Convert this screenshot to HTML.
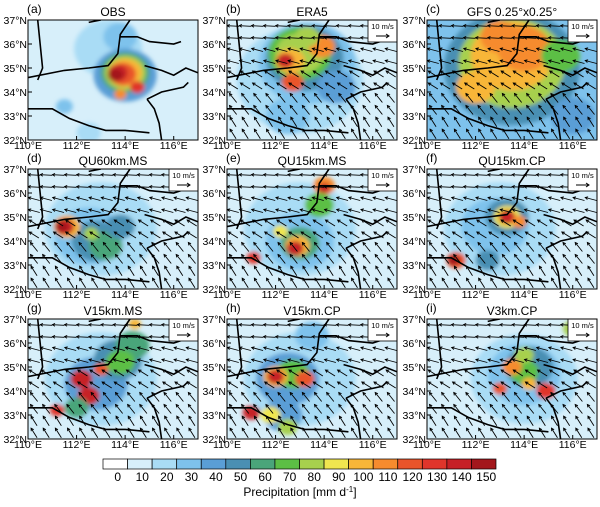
<!DOCTYPE html>
<html><head><meta charset="utf-8">
<style>
body{margin:0;background:#fff;width:600px;height:502px;overflow:hidden;font-family:"Liberation Sans",sans-serif;}
svg text{font-family:"Liberation Sans",sans-serif;}
</style></head>
<body>
<svg id="fig" width="600" height="502" viewBox="0 0 600 502">
<defs><filter id="bl" x="-20%" y="-20%" width="140%" height="140%"><feGaussianBlur stdDeviation="2"/></filter></defs>
</svg>
<script>
const levels=[0,10,20,30,40,50,60,70,80,90,100,110,120,130,140,150];
const colors=["#ffffff","#d7effa","#a9dcf5","#7ec2ec","#5a9ed6","#4a8fb3","#4aa57a","#5cbf45","#a7d04d","#f0e64f","#f8b638","#f68b2e","#e9542a","#e0352b","#c62026","#a3171c"];
const panelTitles=["OBS","ERA5","GFS 0.25°x0.25°","QU60km.MS","QU15km.MS","QU15km.CP","V15km.MS","V15km.CP","V3km.CP"];
const panelTags=["(a)","(b)","(c)","(d)","(e)","(f)","(g)","(h)","(i)"];
const bgLevel=[1,1,3,1,1,1,1,1,1];
const blobs=[
[[113.3,35.8,1.4,2],[113.8,36.3,0.7,3],[114,34.7,1.3,4],[114,34.8,1.0,6],[114,34.8,0.85,8],[114,34.8,0.7,10],[113.9,34.75,0.55,12],[113.7,34.8,0.4,14],[113.6,34.7,0.3,15],[114.5,34.2,0.3,13],[113.8,33.9,0.25,11],[111.5,33.4,0.35,3],[112.5,32.3,0.5,2]],
[[113,34.5,2.6,2],[113.3,35.2,2,3],[113.2,35.4,1.6,5],[113,35.6,1.3,7],[113,35.6,1.0,8],[112.6,35.3,0.6,10],[112.4,35.3,0.35,14],[112.7,34.4,0.45,12],[113.9,35.9,0.55,11],[113.3,36.3,0.5,8],[114.5,34.2,0.8,4],[112.5,33,0.9,3]],
[[113.5,35.0,2.8,5],[113.5,35.2,2.2,8],[113.5,35.5,1.7,10],[114,35.8,1.1,11],[113,36.3,0.8,11],[112,34.2,0.8,10],[115.5,35.5,0.8,7],[116,33,0.9,4]],
[[113,34.5,2.3,2],[112.5,34.2,1.4,3],[112.8,34,1.0,5],[113.2,33.8,0.7,6],[113.8,34.6,0.6,5],[111.6,34.6,0.55,10],[111.5,34.6,0.4,14],[111.4,34.6,0.25,15],[112.6,34.3,0.3,8]],
[[113,34.5,2.3,2],[113,34,1.4,3],[113,33.9,0.8,6],[112.9,33.8,0.5,10],[112.8,33.7,0.35,14],[111.1,33.3,0.3,13],[114,36.3,0.45,11],[114,36.2,0.25,14],[113.8,35.5,0.6,7],[112.2,34.4,0.3,9]],
[[113,34.5,2.3,2],[112.8,34.6,1.4,3],[113.3,35,0.9,5],[113.3,35,0.55,9],[113.3,35,0.35,14],[113.8,34.8,0.3,11],[111.2,33.2,0.4,12],[111.1,33.2,0.25,15],[112.5,33.2,0.5,5]],
[[113,34.5,2.3,2],[112.8,34.3,1.3,4],[113.7,35.3,1,5],[114.3,35.9,0.7,6],[113.8,35.2,0.6,7],[112.2,34.5,0.45,14],[112.5,33.8,0.45,14],[111.2,33.2,0.3,13],[112,33.3,0.5,6],[113,34.9,0.3,12],[114.4,36.8,0.25,10]],
[[113,34.5,2.3,2],[112.5,34.5,1.3,4],[112.3,33,0.8,4],[112.7,34.7,0.7,7],[112,34.6,0.5,10],[112,34.6,0.35,14],[113.2,34.5,0.4,12],[111,33.1,0.35,14],[111.8,33,0.4,9],[112.5,32.5,0.4,8],[113.5,36.3,0.7,3]],
[[114,34.5,2.2,2],[114,34.7,1.5,3],[114.2,35,1.0,5],[114,34.8,0.6,7],[113.5,35,0.4,11],[114.9,34.0,0.4,13],[113,34.1,0.3,12],[114,35.5,0.4,8],[116,36.6,0.4,8],[114.2,34.3,0.3,10]]
];
const borders=[
[[110,34.6],[111.5,34.9],[112.5,35.0],[113.3,35.1],[113.7,35.6],[113.8,36.4],[114.2,37]],
[[113.8,36.3],[114.5,36.3],[115,36.1],[116,36],[116.3,36.1]],
[[114.8,35.1],[115.5,34.9],[116,34.7],[116.5,35],[117,34.8]],
[[110,33.3],[111,33.3],[111.7,32.9],[112.5,32.6],[113.2,32.4],[114,32.4],[115,32.3]],
[[110.4,37],[110.5,36],[110.6,35],[110.4,34.5]],
[[114.9,33.7],[115.5,34],[116.4,34.2],[116.6,34.4]],
[[115.5,32],[115.4,32.7],[115.2,33.3],[114.9,33.7]],
[[112.5,36.9],[113,37]]
];
const windU=[-1,-0.95,-0.8,-0.6,-0.5];
const windV=[0.05,0.25,0.5,0.75,0.8];
const svg=document.getElementById('fig');
const NS="http://www.w3.org/2000/svg";
function mk(t,a,p){const e=document.createElementNS(NS,t);for(const k in a)e.setAttribute(k,a[k]);(p||svg).appendChild(e);return e;}
const lefts=[28,227,427],tops=[20,169,319],W=170,H=120,SX=W/7,SY=H/5;
for(let i=0;i<9;i++){
 const L=lefts[i%3],T=tops[Math.floor(i/3)];
 const px=lon=>L+(lon-110)*SX, py=lat=>T+(37-lat)*SY;
 const g=mk('g',{});
 
 
 const cp=mk('clipPath',{id:'c'+i},g);mk('rect',{x:L,y:T,width:W,height:H},cp);
 const m=mk('g',{'clip-path':'url(#c'+i+')'},g);
 mk('rect',{x:L,y:T,width:W,height:H,fill:colors[bgLevel[i]]},m);
 const bg=mk('g',{filter:'url(#bl)'},m);
 blobs[i].forEach(b=>{const c=mk('ellipse',{cx:px(b[0]),cy:py(b[1]),rx:b[2]*SX,ry:b[2]*SY*0.85,fill:colors[b[3]]},bg);
  });
 borders.forEach(br=>{const p=mk('polyline',{points:br.map(q=>px(q[0])+','+py(q[1])).join(' '),fill:'none',stroke:'#000','stroke-width':1.6},m);
  });
 if(i>0){
  for(let la=32.25;la<37;la+=0.5){const r=Math.min(4,Math.floor((37-la)));for(let lo=110.25;lo<117;lo+=0.5){
   const u=windU[r],v=windV[r],len=12,x0=px(lo),y0=py(la),dx=u*len,dy=-v*len;
   const a=mk('g',{stroke:'#000','stroke-width':0.9,fill:'none'},m);
   
   mk('line',{x1:x0-dx/2,y1:y0-dy/2,x2:x0+dx/2,y2:y0+dy/2},a);
   const ang=Math.atan2(dy,dx),hx=x0+dx/2,hy=y0+dy/2;
   mk('polyline',{points:`${hx-3*Math.cos(ang-0.5)},${hy-3*Math.sin(ang-0.5)} ${hx},${hy} ${hx-3*Math.cos(ang+0.5)},${hy-3*Math.sin(ang+0.5)}`},a);
  }}
  const rb=mk('g',{},g);
  mk('rect',{x:L+W-29,y:T,width:29,height:22,fill:'#fff',stroke:'#000','stroke-width':0.8},rb);
  const tt=mk('text',{x:L+W-14.5,y:T+9,'font-size':7.5,'text-anchor':'middle'},rb);tt.textContent='10 m/s';
  mk('line',{x1:L+W-21,y1:T+16,x2:L+W-8,y2:T+16,stroke:'#000','stroke-width':1},rb);
  mk('polyline',{points:`${L+W-11},${T+14} ${L+W-8},${T+16} ${L+W-11},${T+18}`,fill:'none',stroke:'#000','stroke-width':1},rb);
 }
 mk('rect',{x:L,y:T,width:W,height:H,fill:'none',stroke:'#000','stroke-width':1},g);
 for(let la=32;la<=37;la++){mk('line',{x1:L,y1:py(la),x2:L+4,y2:py(la),stroke:'#000'},g);
  const t=mk('text',{x:L-1,y:py(la)+4,'font-size':10.5,'text-anchor':'end'},g);t.textContent=la+'°N';
  }
 for(let lo=110;lo<=116;lo+=2){mk('line',{x1:px(lo),y1:T+H,x2:px(lo),y2:T+H-4,stroke:'#000'},g);
  const t=mk('text',{x:px(lo),y:T+H+9,'font-size':10.5,'text-anchor':'middle'},g);t.textContent=lo+'°E';
  }
 const ti=mk('text',{x:L+W/2,y:T-4,'font-size':12,'text-anchor':'middle'},g);ti.textContent=panelTitles[i];
 
 const tg=mk('text',{x:L-1,y:T-7,'font-size':12},g);tg.textContent=panelTags[i];
 
}
const cb=mk('g',{});
const cbx=103,cbw=393/16;
colors.forEach((c,k)=>{const r=mk('rect',{x:cbx+k*cbw,y:459,width:cbw,height:10,fill:c,stroke:'#000','stroke-width':0.7},cb);
 });
levels.forEach((v,k)=>{const t=mk('text',{x:cbx+(k+0.6)*cbw,y:481,'font-size':12,'text-anchor':'middle'},cb);t.textContent=v;
 });
const ct=mk('text',{x:300,y:496,'font-size':12,'text-anchor':'middle'},cb);ct.innerHTML='Precipitation [mm d<tspan dy="-4" font-size="8">-1</tspan><tspan dy="4">]</tspan>';

</script>
</body></html>
